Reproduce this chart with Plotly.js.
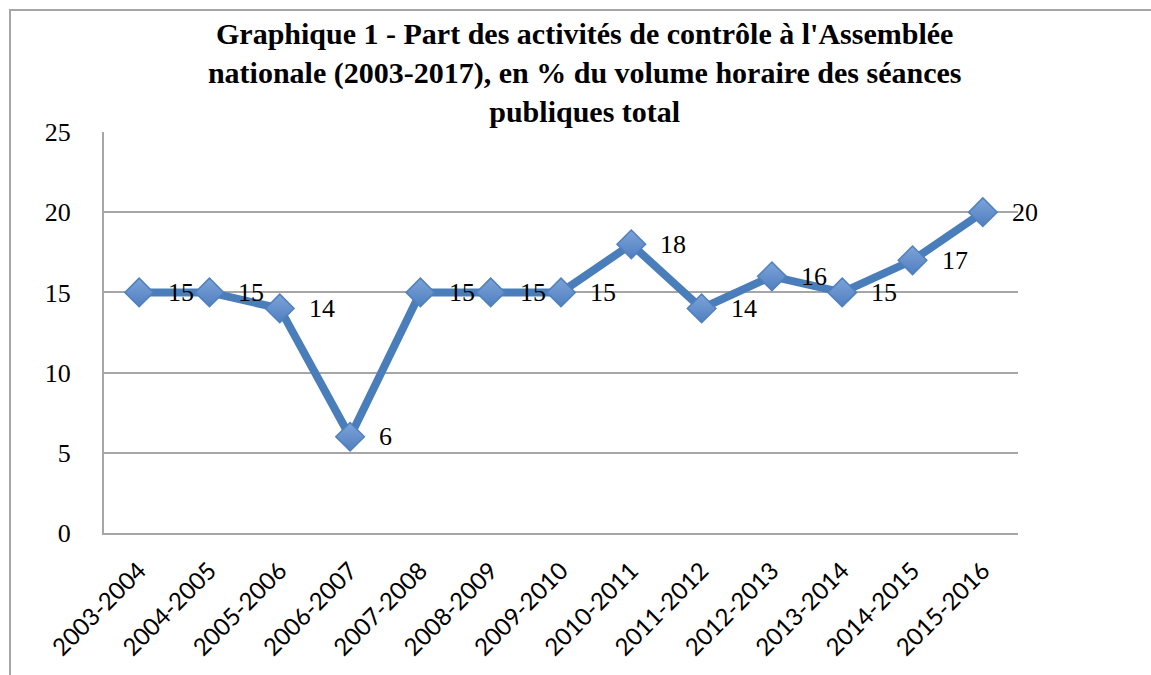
<!DOCTYPE html>
<html><head><meta charset="utf-8">
<script src="https://cdn.plot.ly/plotly-3.0.1.min.js"></script>
<style>
html,body{margin:0;padding:0;background:#fff;}
#wrap{position:relative;width:1151px;height:675px;overflow:hidden;}
#chart{position:absolute;left:0;top:0;width:1151px;height:675px;}
#frame{position:absolute;left:9px;top:9px;width:1300px;height:800px;border-left:2px solid #a6a6a6;border-top:2px solid #a6a6a6;pointer-events:none;}
</style></head>
<body><div id="wrap"><div id="chart"></div><div id="frame"></div></div>
<script>
const categories = ["2003-2004","2004-2005","2005-2006","2006-2007","2007-2008","2008-2009","2009-2010","2010-2011","2011-2012","2012-2013","2013-2014","2014-2015","2015-2016"];
const values = [15,15,14,6,15,15,15,18,14,16,15,17,20];
const yTicks = [0,5,10,15,20,25];
const titleText = "Graphique 1 - Part des activités de contrôle à l'Assemblée<br>nationale (2003-2017), en % du volume horaire des séances<br>publiques total";

const trace = {
  x: categories, y: values, type: 'scatter', mode: 'lines+markers',
  line: {color: '#4a7ebb', width: 8},
  marker: {symbol: 'diamond', size: 22, color: '#7ea3d8', line: {color: '#4f81bd', width: 1.5},
           gradient: {type: 'vertical', color: '#4f7fc0'}},
  hoverinfo: 'skip', cliponaxis: false
};

const annotations = categories.map((c, i) => ({
  x: c, y: values[i], xref: 'x', yref: 'y', text: String(values[i]),
  showarrow: false, xanchor: 'left', yanchor: 'middle', xshift: 27,
  font: {family: 'Liberation Serif, serif', size: 26, color: '#000'}
}));

const layout = {
  width: 1151, height: 675,
  margin: {l: 104, r: 133, t: 132, b: 142},
  paper_bgcolor: '#fff', plot_bgcolor: '#fff',
  showlegend: false,
  title: {text: titleText, x: 0.508, xanchor: 'center', y: 1 - 44/675, yanchor: 'top', yref: 'container',
          font: {family: 'Liberation Serif, serif', size: 30, color: '#000', weight: 'bold'}},
  xaxis: {type: 'category', range: [-0.5, 12.5], tickangle: -45, showgrid: false,
          showline: true, linecolor: '#a6a6a6', linewidth: 2, ticks: '', ticklabelstandoff: 12,
          tickfont: {family: 'Lato, Liberation Sans, sans-serif', size: 24, color: '#000'}, fixedrange: true},
  yaxis: {range: [0, 25], tickvals: yTicks, showgrid: true, gridcolor: '#a6a6a6', gridwidth: 2,
          showline: true, linecolor: '#a6a6a6', linewidth: 2, zeroline: false, ticks: '', ticklabelstandoff: 26,
          tickfont: {family: 'Liberation Serif, serif', size: 26, color: '#000'}, fixedrange: true},
  annotations: annotations
};
Plotly.newPlot('chart', [trace], layout, {displayModeBar: false, staticPlot: true});
</script></body></html>
